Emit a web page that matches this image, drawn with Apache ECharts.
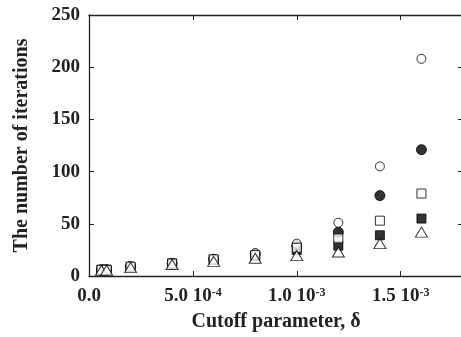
<!DOCTYPE html>
<html>
<head>
<meta charset="utf-8">
<script src="https://cdn.jsdelivr.net/npm/echarts@6/dist/echarts.min.js"></script>
<style>
html, body { margin: 0; padding: 0; background: #fff; }
#chart { width: 461px; height: 337px; }
</style>
</head>
<body>
<div id="chart"></div>
<script>
// cutoff parameter values (delta)
var cutoffs = [6e-5, 8.5e-5, 2e-4, 4e-4, 6e-4, 8e-4, 1e-3, 1.2e-3, 1.4e-3, 1.6e-3];
// number of iterations for each marker type
var openCircle = [6, 6, 9, 12, 16, 22, 31, 51, 105, 208];
var filledCircle = [6, 6, 9, 12, 16, 21, 29, 42, 77, 121];
var openSquare = [6, 6, 9, 12, 16, 20, 27, 36, 53, 79];
var filledSquare = [6, 6, 8.5, 12, 15.5, 19, 25, 29, 39, 55];
var openTriangle = [5.5, 5.5, 8, 11, 14, 17, 19.5, 23, 31, 42];
// x tick labels: mantissa + exponent
var xTickValues = [0, 5e-4, 1e-3, 1.5e-3];
var xTickMantissa = ['0.0', '5.0 10', '1.0 10', '1.5 10'];
var xTickExponent = ['', '-4', '-3', '-3'];

var font = 'Liberation Serif';
var axisColor = '#222';

function pairs(ys) {
    return cutoffs.map(function (x, i) { return [x, ys[i]]; });
}

function xLabel(v) {
    for (var i = 0; i < xTickValues.length; i++) {
        if (Math.abs(v - xTickValues[i]) < 1e-9) {
            if (!xTickExponent[i]) return '{m|' + xTickMantissa[i] + '}';
            return '{m|' + xTickMantissa[i] + '}{e|' + xTickExponent[i] + '}';
        }
    }
    return '';
}

function frameAxis(extra) {
    var base = {
        axisLine: {show: true, onZero: false, lineStyle: {color: axisColor, width: 1.3}},
        axisTick: {show: true, inside: true, length: 5, lineStyle: {color: axisColor}},
        splitLine: {show: false}
    };
    for (var k in extra) base[k] = extra[k];
    return base;
}

var xCommon = {type: 'value', min: 0, max: 1.8e-3, interval: 5e-4};
var yCommon = {type: 'value', min: 0, max: 250, interval: 50};

function series(name, data, symbol, size, filled) {
    return {
        name: name,
        type: 'scatter',
        data: pairs(data),
        symbol: symbol,
        symbolSize: size,
        itemStyle: {
            color: filled ? '#000' : '#fff',
            borderColor: '#000',
            borderWidth: 1
        },
        z: filled ? 2 : 3
    };
}

echarts.init(document.getElementById('chart')).setOption({
    animation: false,
    backgroundColor: '#fff',
    grid: {left: 89, top: 15, width: 374, height: 261, containLabel: false, outerBoundsMode: 'none'},
    xAxis: [
        frameAxis(Object.assign({}, xCommon, {
            position: 'bottom',
            name: 'Cutoff parameter, δ',
            nameLocation: 'middle',
            nameGap: 36,
            nameMoveOverlap: false,
            nameTextStyle: {fontFamily: font, fontWeight: 'bold', fontSize: 20, color: '#222'},
            axisLabel: {
                margin: 11,
                formatter: xLabel,
                rich: {
                    m: {fontFamily: font, fontWeight: 'bold', fontSize: 19, color: '#222', lineHeight: 19},
                    e: {fontFamily: font, fontWeight: 'bold', fontSize: 12, color: '#222', lineHeight: 12, verticalAlign: 'top'}
                }
            }
        })),
        frameAxis(Object.assign({}, xCommon, {
            position: 'top',
            axisLabel: {show: false}
        }))
    ],
    yAxis: [
        frameAxis(Object.assign({}, yCommon, {
            position: 'left',
            name: 'The number of iterations',
            nameLocation: 'middle',
            nameGap: 57,
            nameMoveOverlap: false,
            nameTextStyle: {fontFamily: font, fontWeight: 'bold', fontSize: 20, color: '#222'},
            axisLabel: {margin: 9, fontFamily: font, fontWeight: 'bold', fontSize: 19, color: '#222'}
        })),
        frameAxis(Object.assign({}, yCommon, {
            position: 'right',
            axisLabel: {show: false}
        }))
    ],
    series: [
        series('open circle', openCircle, 'circle', 9, false),
        series('filled circle', filledCircle, 'circle', 10, true),
        series('open square', openSquare, 'rect', 9, false),
        series('filled square', filledSquare, 'rect', 9, true),
        series('open triangle', openTriangle, 'triangle', [12, 10], false)
    ]
});
</script>
</body>
</html>
